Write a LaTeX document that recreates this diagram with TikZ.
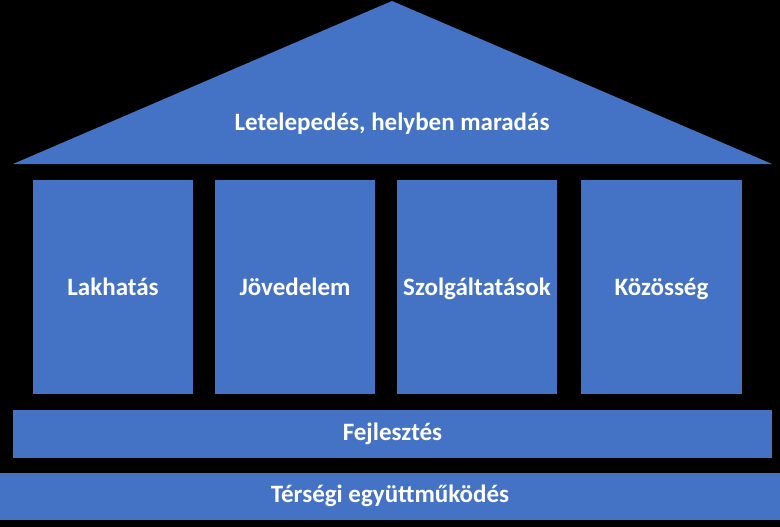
\documentclass[tikz,border=0pt]{standalone}
\usepackage{fontspec}
\setmainfont{Carlito}
\usepackage{tkz-euclide}
\definecolor{BlockClr}{rgb}{0.267,0.447,0.769}

\tikzset{
  block/.style={fill=BlockClr,draw=none,inner sep=0pt},
  label/.style={text=white,anchor=base,inner sep=0pt,
    font=\bfseries\fontsize{25}{30}\selectfont}
}

\begin{document}
\begin{tikzpicture}[x=1pt,y=-1pt]
\fill[black] (0,0) rectangle (780,527);
\useasboundingbox (0,0) rectangle (780,527);

\tkzDefPoints{13/164/L,392/1/T,772/164/R}
\tkzFillPolygon[fill=BlockClr](L,T,R)
\node[label] (roof) at (392,130) {Letelepedés, helyben maradás};

\node[block,minimum width=160pt,minimum height=214pt] (lak) at (113,287) {};
\node[block,minimum width=160pt,minimum height=214pt] (jov) at (295,287) {};
\node[block,minimum width=160pt,minimum height=214pt] (szo) at (477,287) {};
\node[block,minimum width=161pt,minimum height=214pt] (koz) at (661.5,287) {};

\node[label] (lakTxt) at (113,295) {Lakhatás};
\node[label] (jovTxt) at (295,295) {Jövedelem};
\node[label] (szoTxt) at (477,295) {Szolgáltatások};
\node[label] (kozTxt) at (661.5,295) {Közösség};

\node[block,minimum width=759pt,minimum height=48pt] (fej) at (392.5,434) {};
\node[block,minimum width=780pt,minimum height=47pt] (ter) at (390,496.5) {};

\node[label] (fejTxt) at (392.5,440) {Fejlesztés};
\node[label] (terTxt) at (390,502) {Térségi együttműködés};

\end{tikzpicture}
\end{document}
